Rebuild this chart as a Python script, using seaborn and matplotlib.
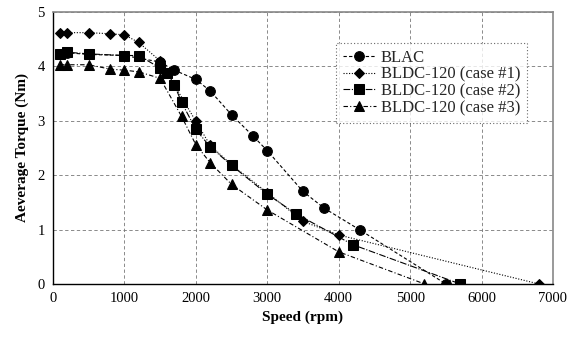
import matplotlib
matplotlib.use("Agg")
import matplotlib.pyplot as plt
import seaborn as sns
import pandas as pd

# Data
blac_speed = [100, 200, 500, 1000, 1500, 1700, 2000, 2200, 2500, 2800, 3000, 3500, 3800, 4300, 5500]
blac_torque = [4.23, 4.25, 4.22, 4.20, 4.08, 3.93, 3.76, 3.55, 3.11, 2.72, 2.45, 1.70, 1.39, 0.99, 0.0]

c1_speed = [100, 200, 500, 800, 1000, 1200, 1500, 2000, 2200, 2500, 3000, 3500, 4000, 6800]
c1_torque = [4.62, 4.62, 4.62, 4.60, 4.58, 4.44, 4.10, 2.99, 2.55, 2.19, 1.68, 1.15, 0.90, 0.0]

c2_speed = [100, 200, 500, 1000, 1200, 1500, 1600, 1700, 1800, 2000, 2200, 2500, 3000, 3400, 4200, 5700]
c2_torque = [4.23, 4.26, 4.23, 4.20, 4.20, 3.97, 3.87, 3.66, 3.34, 2.84, 2.52, 2.18, 1.65, 1.29, 0.72, 0.0]

c3_speed = [100, 200, 500, 800, 1000, 1200, 1500, 1800, 2000, 2200, 2500, 3000, 4000, 5200]
c3_torque = [4.03, 4.03, 4.03, 3.95, 3.93, 3.90, 3.78, 3.08, 2.56, 2.23, 1.83, 1.36, 0.59, 0.0]

labels = ["BLAC", "BLDC-120 (case #1)", "BLDC-120 (case #2)", "BLDC-120 (case #3)"]
x_ticks = [0, 1000, 2000, 3000, 4000, 5000, 6000, 7000]
y_ticks = [0, 1, 2, 3, 4, 5]

sns.set_style("whitegrid")
plt.rcParams['font.family'] = ['Liberation Serif', 'DejaVu Serif']

fig = plt.figure(figsize=(5.74, 3.38), dpi=100)
ax = fig.add_axes([0.0923, 0.160, 0.8711, 0.8045])

series = [
    (blac_speed, blac_torque, "o", (0, (3, 2)), 7.0),
    (c1_speed, c1_torque, "D", (0, (1, 1.5)), 5.5),
    (c2_speed, c2_torque, "s", (0, (6, 1.5, 1, 1.5)), 6.5),
    (c3_speed, c3_torque, "^", (0, (4, 2, 1, 2)), 7.0),
]
for (xs, ys, mk, ls, ms), lab in zip(series, labels):
    df = pd.DataFrame({"Speed": xs, "Torque": ys})
    sns.lineplot(data=df, x="Speed", y="Torque", ax=ax, marker=mk, linestyle=ls,
                 color="black", linewidth=0.8, markersize=ms, markeredgecolor="black",
                 markerfacecolor="black", label=lab, sort=False)

ax.set_xlim(0, 7000)
ax.set_ylim(0, 5)
ax.set_xticks(x_ticks)
ax.set_yticks(y_ticks)
ax.grid(True, color="#777777", linestyle=(0, (4, 3)), linewidth=0.6)
ax.tick_params(axis="both", labelsize=10.5, length=0, pad=6)
for lbl in ax.get_xticklabels() + ax.get_yticklabels():
    lbl.set_color("black")
ax.set_xlabel("Speed (rpm)", fontsize=11, fontweight="bold", color="black", labelpad=4)
ax.set_ylabel("Aeverage Torque (Nm)", fontsize=11, fontweight="bold", color="black", labelpad=6)

for side in ["left", "bottom"]:
    ax.spines[side].set_color("black")
    ax.spines[side].set_linewidth(1.0)
for side in ["top", "right"]:
    ax.spines[side].set_color("#888888")
    ax.spines[side].set_linewidth(1.2)

leg = ax.legend(loc="upper left", bbox_to_anchor=(0.566, 0.886), fontsize=12,
                frameon=True, fancybox=False, handlelength=2.0, labelspacing=0.05,
                handletextpad=0.3, borderpad=0.4, borderaxespad=0)
leg.get_frame().set_edgecolor("#444444")
leg.get_frame().set_linestyle((0, (1, 2)))
leg.get_frame().set_linewidth(0.8)

fig.savefig("out.png", dpi=100)
